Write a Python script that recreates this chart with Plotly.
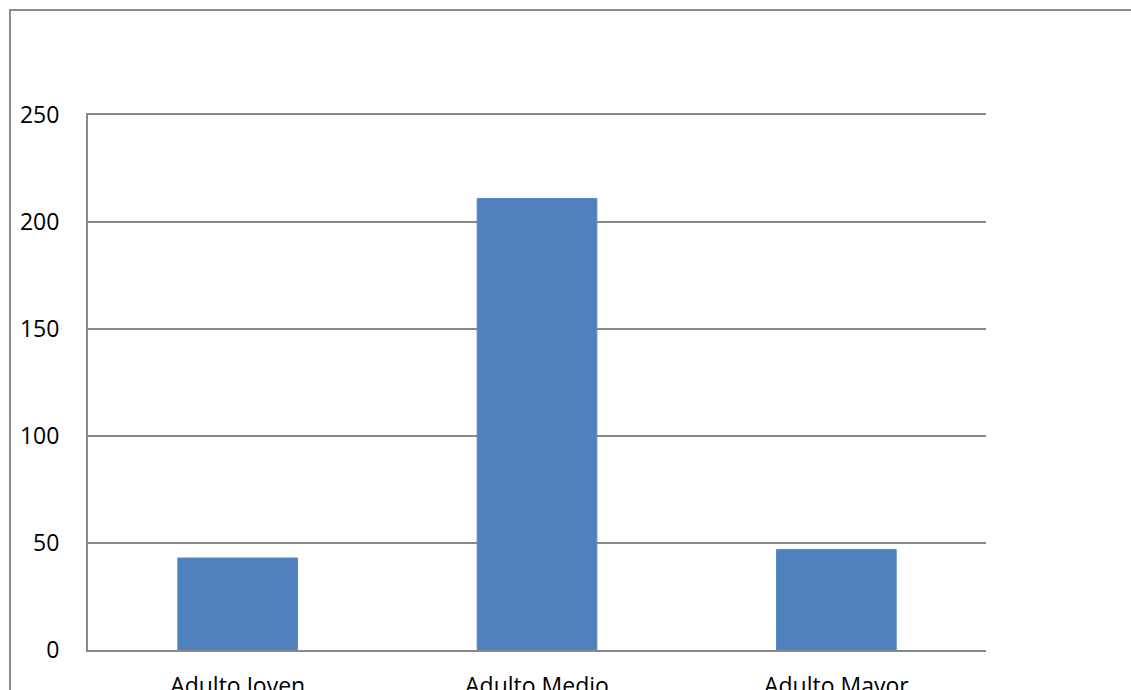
import plotly.graph_objects as go

categories = ["Adulto Joven", "Adulto Medio", "Adulto Mayor"]
values = [43, 211, 47]
y_ticks = [0, 50, 100, 150, 200, 250]

W, H = 1131, 690
L, R, T, B = 88, 145, 115, 40
pw, ph = W - L - R, H - T - B

fig = go.Figure(
    go.Bar(
        x=categories,
        y=values,
        marker=dict(color="#4F81BD", line=dict(color="#5B8CC6", width=1)),
        width=0.4,
    )
)

grid = "#888888"
font = dict(family="Open Sans", size=23, color="#000000")

fig.update_layout(
    width=W,
    height=H,
    margin=dict(l=L, r=R, t=T, b=B, autoexpand=False),
    paper_bgcolor="white",
    plot_bgcolor="white",
    showlegend=False,
    font=font,
    xaxis=dict(
        showgrid=False,
        showline=True,
        mirror=True,
        linecolor=grid,
        linewidth=2,
        zeroline=False,
        ticks="",
        tickfont=font,
        ticklabelstandoff=14,
        automargin=False,
    ),
    yaxis=dict(
        range=[0, 250],
        tickvals=y_ticks,
        showgrid=True,
        gridcolor=grid,
        gridwidth=2,
        showline=True,
        linecolor=grid,
        linewidth=2,
        zeroline=False,
        ticks="",
        tickfont=font,
        ticklabelstandoff=22,
        automargin=False,
    ),
)

# outer chart-area frame (extends past the right and bottom edges)
fig.add_shape(
    type="rect",
    xref="paper",
    yref="paper",
    x0=(10 - L) / pw,
    x1=(W + 20 - L) / pw,
    y0=(ph + T - (H + 20)) / ph,
    y1=(ph + T - 10) / ph,
    line=dict(color="#8C8C8C", width=2),
    fillcolor="rgba(0,0,0,0)",
    layer="below",
)

fig.write_html("out.html")
